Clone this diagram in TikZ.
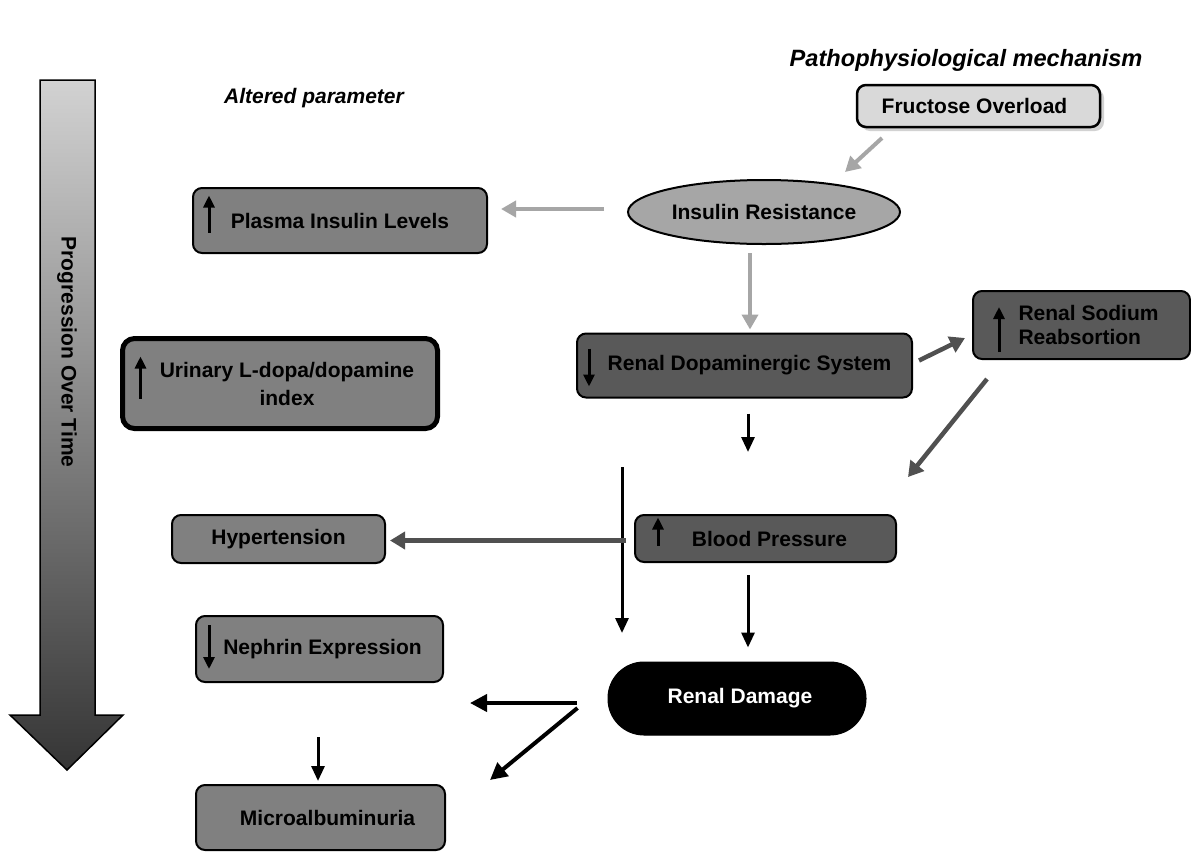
\documentclass[tikz,border=0pt]{standalone}
\usepackage{fontspec}
\setmainfont{Liberation Sans}
\usetikzlibrary{arrows.meta,shapes.geometric,shadows,calc}
\definecolor{boxgray}{HTML}{808080}
\definecolor{darkbox}{HTML}{595959}
\definecolor{lightbox}{HTML}{D9D9D9}
\definecolor{ellgray}{HTML}{A6A6A6}
\definecolor{arrgray}{HTML}{A6A6A6}
\definecolor{arrdark}{HTML}{505050}
\definecolor{shadetop}{HTML}{D2D2D2}
\definecolor{shadebot}{HTML}{353535}
\begin{document}
\begin{tikzpicture}[x=1pt,y=-1pt,
  font=\fontsize{21}{24}\selectfont\bfseries,
  box/.style={draw=black, line width=2pt, rounded corners=9pt, inner sep=0pt, fill=boxgray, text=black},
  darkb/.style={box, fill=darkbox},
  garrow/.style={draw=arrgray, line width=4pt, -{Triangle[length=15pt,width=16pt]}},
  darrow/.style={draw=arrdark, line width=4.5pt, -{Triangle[length=15pt,width=17pt]}},
  barrow/.style={draw=black, line width=3pt, -{Triangle[length=15pt,width=13pt]}},
  rarrow/.style={draw=black, line width=4pt, -{Triangle[length=17pt,width=17pt]}},
  inarrow/.style={draw=black, line width=3pt, -{Triangle[length=12pt,width=11pt]}},
  heading/.style={font=\fontsize{21}{24}\selectfont\bfseries\itshape}
]
\useasboundingbox (0,0) rectangle (1191,852);
\fill[white] (0,0) rectangle (1191,852);

% headings
\node[heading, font=\fontsize{23.6}{26}\selectfont\bfseries\itshape, anchor=east] (hmech) at (1146,60) {Pathophysiological mechanism};
\node[heading] (halt) at (314,98) {Altered parameter};

% progression arrow
\shadedraw[top color=shadetop, bottom color=shadebot, draw=black, line width=1.5pt]
  (40,80) -- (95,80) -- (95,715) -- (123,715) -- (67,770) -- (10,715) -- (40,715) -- cycle;
\node[rotate=-90] (prog) at (67,352) {Progression Over Time};

% nodes
\node[box, fill=lightbox, line width=2.5pt, minimum width=243pt, minimum height=42pt,
      drop shadow={shadow xshift=4pt, shadow yshift=-4pt, opacity=0.35, fill=gray}]
      (fru) at (978.5,106) {Fructose Overload\hspace*{8pt}};
\node[ellipse, draw=black, line width=2pt, fill=ellgray, minimum width=272pt, minimum height=64pt, inner sep=0pt]
      (ir) at (764,212) {Insulin Resistance};
\node[box, minimum width=294pt, minimum height=65pt] (pil) at (340,220.5) {Plasma Insulin Levels};
\node[box, line width=5pt, rounded corners=12pt, minimum width=315pt, minimum height=90pt, align=center]
      (uri) at (280,383.5) {\hspace*{14pt}Urinary L-dopa/dopamine\\[4pt]\hspace*{14pt}index};
\node[darkb, minimum width=335pt, minimum height=64pt] (rds) at (744.5,365.5) {\hspace*{10pt}Renal Dopaminergic System};
\node[darkb, minimum width=217pt, minimum height=68pt, align=left] (rsr) at (1081.5,325)
      {\hspace*{14pt}Renal Sodium\\\hspace*{14pt}Reabsortion};
\node[box, minimum width=213pt, minimum height=48pt] (hyp) at (278.5,539) {Hypertension};
\node[darkb, minimum width=261pt, minimum height=47pt] (bp) at (765.5,538.5) {\hspace*{8pt}Blood Pressure};
\node[box, minimum width=247pt, minimum height=66pt] (nep) at (319.5,649) {\hspace*{6pt}Nephrin Expression};
\node[draw=black, fill=black, text=white, line width=1pt, rounded corners=36pt, inner sep=0pt,
      minimum width=258pt, minimum height=73pt] (rd) at (737,698.5) {\hspace*{6pt}Renal Damage};
\node[box, minimum width=249pt, minimum height=65pt] (mic) at (320.5,817.5) {\hspace*{14pt}Microalbuminuria};

% arrows inside boxes
\draw[inarrow] ($(pil.west)+(17,12)$) -- ($(pil.west)+(17,-25)$);
\draw[inarrow] ($(uri.west)+(20.5,15)$) -- ($(uri.west)+(20.5,-27)$);
\draw[inarrow] ($(rds.west)+(13,-17)$) -- ($(rds.west)+(13,21)$);
\draw[inarrow] ($(rsr.west)+(27,27)$) -- ($(rsr.west)+(27,-18)$);
\draw[inarrow] ($(bp.west)+(24,7)$) -- ($(bp.west)+(24,-21)$);
\draw[inarrow] ($(nep.west)+(14,-24)$) -- ($(nep.west)+(14,20)$);

% free ends
\coordinate (f1) at (882,138);
\coordinate (f2) at (845,172);
\coordinate (bpin) at (908,477);
\coordinate (dn1) at (748,452);
\coordinate (v1) at (622,467);
\coordinate (v2) at (622,633);
\coordinate (rdl) at (470,703);
\coordinate (rdd) at (490,780);

% connectors
\draw[garrow] (f1) -- (f2);
\draw[garrow] ($(ir.west)+(-23,-3)$) -- ($(pil.east)+(13,-11.5)$);
\draw[garrow] ($(ir.south)+(-14,8)$) -- ($(rds.north)+(5.5,-3)$);
\draw[darrow] ($(rds.east)+(6,-5)$) -- ($(rsr.west)+(-7,13)$);
\draw[darrow] ($(rsr.south west)+(15,19)$) -- (bpin);
\draw[barrow] ($(rds.south)+(3.5,15)$) -- (dn1);
\draw[barrow] (v1) -- (v2);
\draw[darrow] ($(bp.west)+(-8,2)$) -- ($(hyp.east)+(4,1.5)$);
\draw[barrow] ($(bp.south)+(-17.5,12)$) -- ($(rd.north)+(11,-14)$);
\draw[rarrow] ($(rd.west)+(-31,4.5)$) -- (rdl);
\draw[rarrow] ($(rd.west)+(-30,9.5)$) -- (rdd);
\draw[barrow] ($(mic.north)+(-2.5,-47)$) -- ($(mic.north)+(-2.5,-3)$);
\end{tikzpicture}
\end{document}
